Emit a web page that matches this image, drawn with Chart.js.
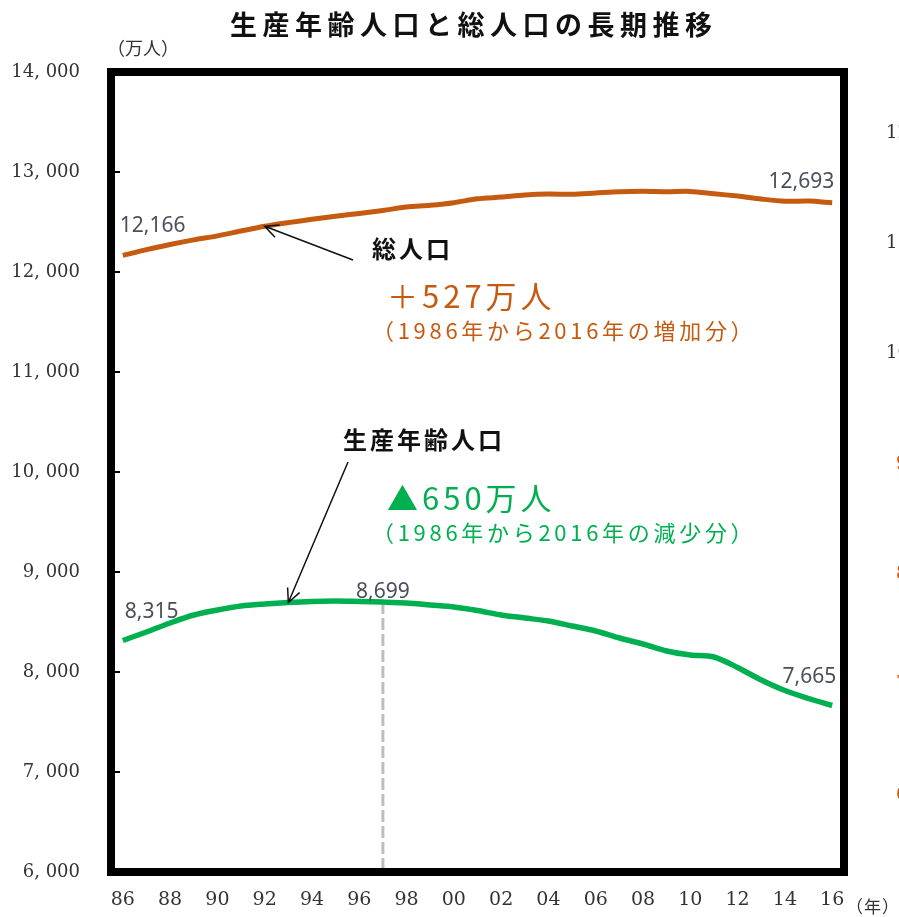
<!DOCTYPE html>
<html>
<head>
<meta charset="utf-8">
<script src="https://cdn.jsdelivr.net/npm/chart.js@4.4.0/dist/chart.umd.min.js"></script>
<style>
  html, body { margin: 0; padding: 0; background: #fff; }
</style>
</head>
<body>
<canvas id="mycanvas" width="899" height="917"></canvas>
<script>
// data (万人)
var Years = ['1986','1987','1988','1989','1990','1991','1992','1993','1994','1995',
             '1996','1997','1998','1999','2000','2001','2002','2003','2004','2005',
             '2006','2007','2008','2009','2010','2011','2012','2013','2014','2015','2016'];
var Total_pop = [12166, 12224, 12275, 12321, 12361, 12410, 12457, 12494, 12527, 12557,
                 12586, 12616, 12649, 12667, 12693, 12732, 12749, 12769, 12779, 12777,
                 12790, 12803, 12808, 12803, 12806, 12783, 12759, 12730, 12708, 12709, 12693];
var Working_pop = [8315, 8400, 8490, 8570, 8620, 8660, 8680, 8695, 8705, 8710,
                   8705, 8699, 8690, 8670, 8650, 8615, 8570, 8540, 8510, 8460,
                   8410, 8340, 8280, 8210, 8170, 8150, 8045, 7920, 7815, 7735, 7665];
var Y_min = 6000, Y_max = 14000, Y_step = 1000;
// labels of the neighbouring chart, cut off at the right edge of the page
var Edge_dark = ['12', '11', '10'];
var Edge_orange = ['9', '8', '7', '6'];

var ORANGE = '#C55A11';
var GREEN = '#00B050';
var CJK = '"Noto Sans CJK JP"';

function txt(ctx, s, x, y, font, color, align, spacing) {
  ctx.save();
  ctx.font = font;
  ctx.fillStyle = color;
  ctx.textAlign = align || 'left';
  ctx.textBaseline = 'middle';
  ctx.letterSpacing = (spacing || 0) + 'px';
  ctx.fillText(s, x, y);
  ctx.restore();
}

function arrow(ctx, x1, y1, x2, y2) {
  var a = Math.atan2(y2 - y1, x2 - x1), h = 15;
  ctx.save();
  ctx.strokeStyle = '#111';
  ctx.lineWidth = 1.5;
  ctx.beginPath();
  ctx.moveTo(x1, y1); ctx.lineTo(x2, y2);
  ctx.moveTo(x2 - h * Math.cos(a - 0.45), y2 - h * Math.sin(a - 0.45));
  ctx.lineTo(x2, y2);
  ctx.lineTo(x2 - h * Math.cos(a + 0.45), y2 - h * Math.sin(a + 0.45));
  ctx.stroke();
  ctx.restore();
}

var fmt = function(v) { return v.toLocaleString('en-US'); };

var decor = {
  id: 'decor',
  beforeDatasetsDraw: function(chart) {
    var ctx = chart.ctx, x = chart.scales.x, y = chart.scales.y;
    // peak marker (1997)
    var i = Years.indexOf('1997');
    ctx.save();
    ctx.strokeStyle = '#BDBDBD';
    ctx.lineWidth = 3;
    ctx.setLineDash([12, 4]);
    ctx.beginPath();
    ctx.moveTo(x.getPixelForValue(i), y.getPixelForValue(Working_pop[i]));
    ctx.lineTo(x.getPixelForValue(i), chart.chartArea.bottom);
    ctx.stroke();
    ctx.restore();
  },
  afterDatasetsDraw: function(chart) {
    var ctx = chart.ctx, x = chart.scales.x, y = chart.scales.y, a = chart.chartArea;
    var n = Years.length - 1;

    // frame
    ctx.save();
    ctx.strokeStyle = '#000';
    ctx.lineWidth = 8;
    ctx.strokeRect(a.left, a.top, a.right - a.left, a.bottom - a.top);
    ctx.lineWidth = 2;
    ctx.beginPath();
    for (var v = Y_min + Y_step; v < Y_max; v += Y_step) {
      ctx.moveTo(a.left, y.getPixelForValue(v));
      ctx.lineTo(a.left + 9, y.getPixelForValue(v));
    }
    ctx.stroke();
    ctx.restore();

    // value labels
    var lf = '21px "Noto Sans"', lc = '#4A4F5A';
    txt(ctx, fmt(Total_pop[0]), x.getPixelForValue(0) - 3, y.getPixelForValue(Total_pop[0]) - 29, lf, lc, 'left');
    txt(ctx, fmt(Total_pop[n]), x.getPixelForValue(n) + 2, y.getPixelForValue(Total_pop[n]) - 21, lf, lc, 'right');
    txt(ctx, fmt(Working_pop[0]), x.getPixelForValue(0) + 2, y.getPixelForValue(Working_pop[0]) - 28, lf, lc, 'left');
    var p = Years.indexOf('1997');
    txt(ctx, fmt(Working_pop[p]), x.getPixelForValue(p), y.getPixelForValue(Working_pop[p]) - 10, lf, lc, 'center');
    txt(ctx, fmt(Working_pop[n]), x.getPixelForValue(n) + 4, y.getPixelForValue(Working_pop[n]) - 28, lf, lc, 'right');

    // callouts
    arrow(ctx, 353, 260, x.getPixelForValue(6), y.getPixelForValue(Total_pop[6]));
    arrow(ctx, 348, 462, x.getPixelForValue(7), y.getPixelForValue(Working_pop[7]));
    txt(ctx, '総人口', 372, 249, 'bold 24px ' + CJK, '#111', 'left', 3);
    txt(ctx, '＋527万人', 387, 296, '31px ' + CJK, ORANGE, 'left', 4);
    txt(ctx, '（1986年から2016年の増加分）', 372, 331, '22px ' + CJK, ORANGE, 'left', 3.7);
    txt(ctx, '生産年齢人口', 343, 440, 'bold 24px ' + CJK, '#111', 'left', 3);
    txt(ctx, '▲650万人', 387, 498, '31px ' + CJK, GREEN, 'left', 4);
    txt(ctx, '（1986年から2016年の減少分）', 372, 533, '22px ' + CJK, GREEN, 'left', 3.7);

    // title and units
    txt(ctx, '生産年齢人口と総人口の長期推移', 230, 25, 'bold 27px ' + CJK, '#111', 'left', 5.5);
    txt(ctx, '（万人）', 107, 48, '18px ' + CJK, '#333', 'left', 0);
    txt(ctx, '（年）', 846, 907, '17px ' + CJK, '#333', 'left', 1);

    // cut-off neighbour labels at the right edge
    var ef = '18px "DejaVu Serif"';
    Edge_dark.forEach(function(s, k) { txt(ctx, s, 886, 133 + k * 110.3, ef, '#333', 'left'); });
    Edge_orange.forEach(function(s, k) { txt(ctx, s, 896, 464 + k * 110.3, ef, ORANGE, 'left'); });
  }
};

var chartdata = {
  labels: Years,
  datasets: [
    {
      label: '総人口',
      borderColor: ORANGE,
      borderWidth: 5,
      pointRadius: 0,
      tension: 0.3,
      fill: false,
      data: Total_pop
    }, {
      label: '生産年齢人口',
      borderColor: GREEN,
      borderWidth: 5.5,
      pointRadius: 0,
      tension: 0.3,
      fill: false,
      data: Working_pop
    }
  ]
};

var ctx = document.getElementById('mycanvas');

var lineGraph = new Chart(ctx, {
  type: 'line',
  data: chartdata,
  plugins: [decor],
  options: {
    responsive: false,
    animation: false,
    layout: { padding: { top: 72, right: 55, left: 0, bottom: 0 } },
    plugins: { legend: { display: false }, tooltip: { enabled: false } },
    scales: {
      x: {
        type: 'category',
        offset: true,
        grid: { display: false, drawTicks: false },
        border: { display: false },
        ticks: {
          autoSkip: false,
          maxRotation: 0,
          padding: 17,
          color: '#333',
          font: { family: 'DejaVu Serif', size: 19 },
          callback: function(v, i) { return i % 2 === 0 ? Years[i].slice(2) : ''; }
        },
        afterFit: function(s) { s.height = 45; }
      },
      y: {
        min: Y_min,
        max: Y_max,
        grid: { display: false, drawTicks: false },
        border: { display: false },
        ticks: {
          stepSize: Y_step,
          padding: 31,
          color: '#333',
          font: { family: 'DejaVu Serif', size: 18 },
          callback: function(v) { return fmt(v).replace(',', ', '); }
        },
        afterFit: function(s) { s.width = 111; }
      }
    }
  }
});
</script>
</body>
</html>
